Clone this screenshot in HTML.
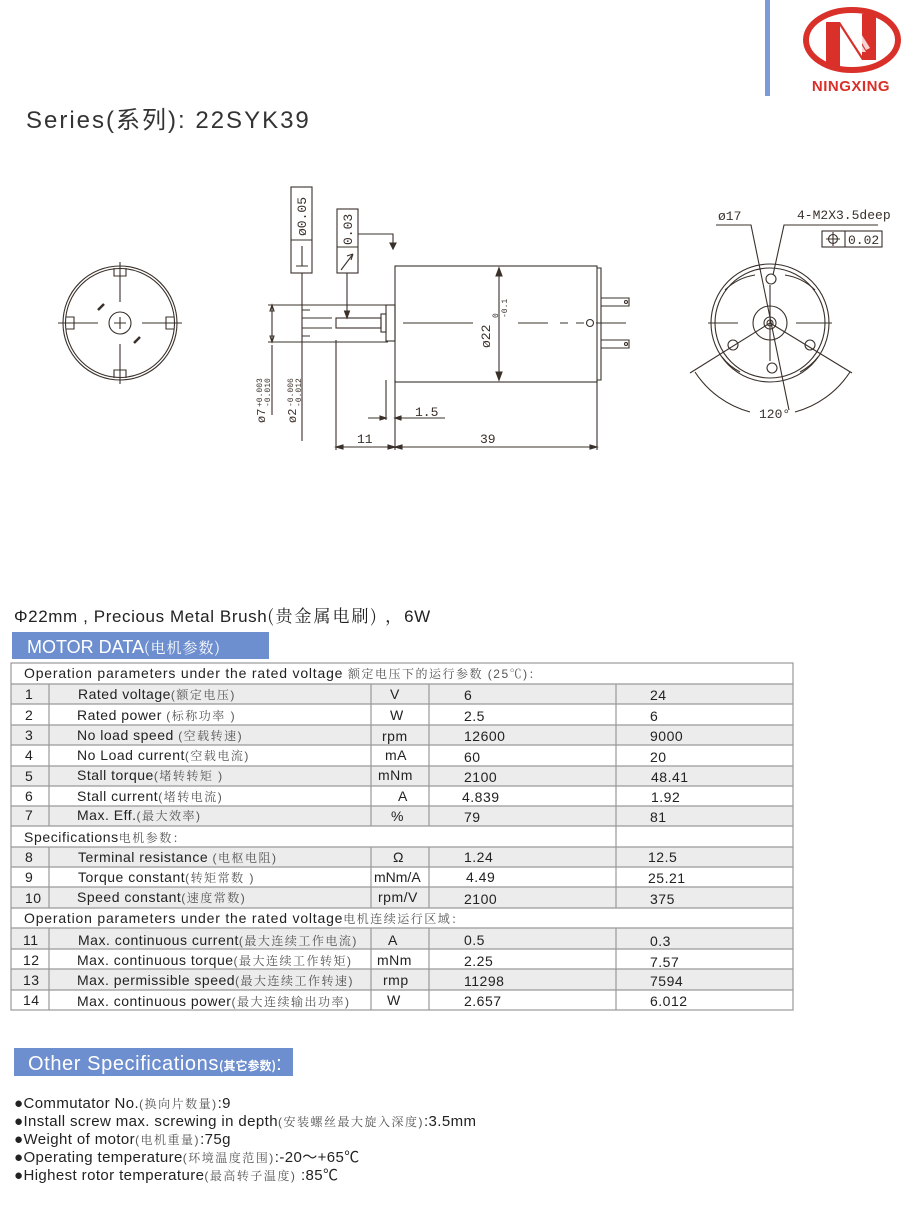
<!DOCTYPE html>
<html><head><meta charset="utf-8"><style>
body{margin:0;background:#fff;}
svg{display:block;font-family:"Liberation Sans","Noto Sans CJK SC",sans-serif;}
.cn{font-family:"Liberation Sans","Noto Serif CJK SC",serif;font-size:12px;fill:#555;letter-spacing:1.5px;}
.t{letter-spacing:0.5px;}
</style></head><body>
<svg width="920" height="1227" viewBox="0 0 920 1227" xmlns="http://www.w3.org/2000/svg">
<!-- header -->
<rect x="765" y="0" width="5" height="96" fill="#7b9bd6"/>
<ellipse cx="852" cy="40" rx="46" ry="30" fill="none" stroke="#d9302a" stroke-width="6"/>
<path d="M826 68 L826 22 L840 22 L862 56 L862 14 L876 14 L876 60 L862 60 L840 26 L840 68 Z" fill="#d9302a"/>
<path d="M843 24 L849 24 L866 52 L860 52 Z M851 24 L855 24 L870 48 L866 50 Z" fill="#fff" opacity="0.8"/>
<text x="851" y="91" font-size="15" font-weight="bold" fill="#d9302a" text-anchor="middle" letter-spacing="0.5">NINGXING</text>
<text x="26" y="128" font-size="24" fill="#333" letter-spacing="2">Series(<tspan font-family="Noto Sans CJK SC">系列</tspan>): 22SYK39</text>

<g stroke="#3a302a" fill="none" stroke-width="1.1">
<!-- left view -->
<circle cx="120" cy="323" r="57"/><circle cx="120" cy="323" r="54.5"/>
<circle cx="120" cy="323" r="11"/>
<path d="M114 323h12 M120 317v12"/>
<path d="M120 262v40 M120 344v40 M58 323h40 M142 323h40"/>
<path d="M114 268v8h12v-8 M114 378v-8h12v8 M66 317h8v12h-8 M174 317h-8v12h8"/>
<path d="M98 310l6-6 M134 343l6-6" stroke-width="2.5"/>
<!-- side view -->
<rect x="395" y="266" width="202" height="116"/>
<path d="M597 268h4v112h-4"/>
<rect x="386" y="305" width="9" height="36"/>
<rect x="381" y="314" width="5" height="18"/>
<rect x="336" y="318" width="45" height="10"/>
<path d="M302 318h30 M302 328h30 M302 310h8 M302 336h8"/>
<path d="M403 323h70 M518 323h30 M560 323h8 M576 323h8 M596 323h30"/>
<circle cx="590" cy="323" r="3.5"/>
<path d="M601 298h28v8h-28 M601 340h28v8h-28"/>
<circle cx="626" cy="302" r="1.5"/><circle cx="626" cy="344" r="1.5"/>
<path d="M499 268v112"/>
<path d="M499 268l-3 8h6z M499 380l-3-8h6z" fill="#3a302a"/>
<!-- frames -->
<rect x="291" y="187" width="21" height="86"/><path d="M291 240h21"/>
<path d="M296 266h12 M302 266v-20" />
<path d="M302 273v168"/>
<rect x="337" y="209" width="21" height="64"/><path d="M337 247h21"/>
<path d="M341 270l12-16 M353 254l-2 6 M353 254l-6 2"/>
<path d="M347 273v45"/><path d="M347 318l-2.5-7h5z" fill="#3a302a"/>
<path d="M358 234h35v15"/><path d="M393 249l-3-6h6z" fill="#3a302a"/>
<!-- dims -->
<path d="M268 305h120 M268 342h120 M272 305v37 M272 305l-2 6h4z M272 342l-2-6h4z"/>
<path d="M272 345v70"/>
<path d="M386 380v40 M395 380v70 M336 340v110 M597 380v70"/>
<path d="M368 418h18 M395 418h50"/>
<path d="M386 418l-6-2v4z M395 418l6-2v4z" fill="#3a302a"/>
<path d="M336 447h259"/>
<path d="M336 447l7-2v4z M395 447l-7-2v4z M395 447l7-2v4z M597 447l-7-2v4z" fill="#3a302a"/>
<!-- right view -->
<circle cx="770" cy="323" r="59"/><circle cx="770" cy="323" r="55"/>
<circle cx="770" cy="323" r="17"/><circle cx="770" cy="323" r="6"/><circle cx="770" cy="323" r="3"/>
<path d="M708 323h30 M796 323h36 M770 285v76"/>
<circle cx="771" cy="279" r="5"/><circle cx="733" cy="345" r="5"/><circle cx="810" cy="345" r="5"/><circle cx="772" cy="368" r="5"/>
<path d="M770 323L690 373 M770 323L852 373"/>
<path d="M725 290a55 55 0 0 1 30 -15 M815 290a55 55 0 0 0 -30 -15 M722 357a55 55 0 0 0 18 15 M818 357a55 55 0 0 1 -18 15"/>
<path d="M695 372a95 95 0 0 0 55 40 M850 372a95 95 0 0 1 -55 40"/>
<path d="M716 225h35 L789 410 M878 225h-94 L773 275"/>
<rect x="822" y="231" width="60" height="16"/><path d="M845 231v16"/>
<circle cx="833" cy="239" r="4.5"/><path d="M826 239h14 M833 232v14"/>
</g>
<g font-family="Liberation Mono,monospace" fill="#3a302a" font-size="13">
<text x="718" y="220">ø17</text>
<text x="797" y="219">4-M2X3.5deep</text>
<text x="848" y="244">0.02</text>
<text x="759" y="418">120°</text>
<text x="415" y="416">1.5</text>
<text x="357" y="443">11</text>
<text x="480" y="443">39</text>
<text transform="translate(306,236) rotate(-90)">ø0.05</text>
<text transform="translate(352,245) rotate(-90)">0.03</text>
<text transform="translate(490,348) rotate(-90)">ø22</text>
<text transform="translate(498,318) rotate(-90)" font-size="8">0</text>
<text transform="translate(507,318) rotate(-90)" font-size="8">-0.1</text>
<text transform="translate(265,423) rotate(-90)" font-size="12">ø7</text>
<text transform="translate(262,407) rotate(-90)" font-size="8">+0.003</text>
<text transform="translate(270,407) rotate(-90)" font-size="8">-0.010</text>
<text transform="translate(296,423) rotate(-90)" font-size="12">ø2</text>
<text transform="translate(293,407) rotate(-90)" font-size="8">-0.006</text>
<text transform="translate(301,407) rotate(-90)" font-size="8">-0.012</text>
</g>

<!-- table -->
<text x="14" y="622" font-size="17" fill="#222" letter-spacing="0.6">Φ22mm , Precious Metal Brush<tspan font-family="Noto Serif CJK SC" letter-spacing="2">(贵金属电刷) ，</tspan>6W</text>
<rect x="12" y="632" width="257" height="27" fill="#6e8fcf"/>
<text x="27" y="653" font-size="18" fill="#fff">MOTOR DATA<tspan font-size="15" font-family="Noto Serif CJK SC" letter-spacing="1">(电机参数)</tspan></text>
<g fill="#ececec">
<rect x="11" y="684" width="782" height="20"/><rect x="11" y="725" width="782" height="20"/><rect x="11" y="766" width="782" height="20"/><rect x="11" y="806" width="782" height="20"/>
<rect x="11" y="847" width="782" height="20"/><rect x="11" y="887" width="782" height="21"/>
<rect x="11" y="928" width="782" height="21"/><rect x="11" y="969" width="782" height="21"/>
</g>
<g stroke="#999" stroke-width="1.2" fill="none">
<rect x="11" y="663" width="782" height="347"/>
<path d="M11 684h782 M11 704h782 M11 725h782 M11 745h782 M11 766h782 M11 786h782 M11 806h782 M11 826h782 M11 847h782 M11 867h782 M11 887h782 M11 908h782 M11 928h782 M11 949h782 M11 969h782 M11 990h782"/>
<path d="M49 684v142 M371 684v142 M429 684v142 M616 684v163 M49 847v61 M371 847v61 M429 847v61 M616 847v61 M49 928v82 M371 928v82 M429 928v82 M616 928v82"/>
</g>
<g font-size="14" fill="#222" class="t">
<text x="24" y="678" letter-spacing="0.8">Operation parameters under the rated voltage <tspan class="cn">额定电压下的运行参数 (25℃)：</tspan></text>
<text x="24" y="842" letter-spacing="0.6">Specifications<tspan class="cn">电机参数：</tspan></text>
<text x="24" y="923" letter-spacing="0.8">Operation parameters under the rated voltage<tspan class="cn">电机连续运行区域：</tspan></text>
<text x="25" y="699">1</text><text x="78" y="699">Rated voltage<tspan class="cn">(额定电压)</tspan></text><text x="390" y="699">V</text><text x="464" y="700">6</text><text x="650" y="700">24</text>
<text x="25" y="720">2</text><text x="77" y="720">Rated power <tspan class="cn">(标称功率 )</tspan></text><text x="390" y="720">W</text><text x="464" y="721">2.5</text><text x="650" y="721">6</text>
<text x="25" y="740">3</text><text x="77" y="740">No load speed <tspan class="cn">(空载转速)</tspan></text><text x="382" y="741">rpm</text><text x="464" y="741">12600</text><text x="650" y="741">9000</text>
<text x="25" y="760">4</text><text x="77" y="760">No Load current<tspan class="cn">(空载电流)</tspan></text><text x="385" y="760">mA</text><text x="464" y="762">60</text><text x="650" y="762">20</text>
<text x="25" y="781">5</text><text x="77" y="780">Stall torque<tspan class="cn">(堵转转矩 )</tspan></text><text x="378" y="780">mNm</text><text x="464" y="782">2100</text><text x="651" y="782">48.41</text>
<text x="25" y="801">6</text><text x="77" y="801">Stall current<tspan class="cn">(堵转电流)</tspan></text><text x="398" y="801">A</text><text x="462" y="802">4.839</text><text x="651" y="802">1.92</text>
<text x="25" y="820">7</text><text x="77" y="820">Max. Eff.<tspan class="cn">(最大效率)</tspan></text><text x="391" y="821">%</text><text x="464" y="822">79</text><text x="650" y="822">81</text>
<text x="25" y="862">8</text><text x="78" y="862">Terminal resistance <tspan class="cn">(电枢电阻)</tspan></text><text x="393" y="862">Ω</text><text x="464" y="862">1.24</text><text x="648" y="862">12.5</text>
<text x="25" y="882">9</text><text x="78" y="882">Torque constant<tspan class="cn">(转矩常数 )</tspan></text><text x="374" y="882" letter-spacing="0">mNm/A</text><text x="466" y="882">4.49</text><text x="648" y="883">25.21</text>
<text x="25" y="903">10</text><text x="77" y="902">Speed constant<tspan class="cn">(速度常数)</tspan></text><text x="378" y="902">rpm/V</text><text x="464" y="904">2100</text><text x="650" y="904">375</text>
<text x="23" y="945">11</text><text x="78" y="945">Max. continuous current<tspan class="cn" letter-spacing="0.8">(最大连续工作电流)</tspan></text><text x="388" y="945">A</text><text x="464" y="945">0.5</text><text x="650" y="946">0.3</text>
<text x="23" y="965">12</text><text x="77" y="965">Max. continuous torque<tspan class="cn" letter-spacing="0.8">(最大连续工作转矩)</tspan></text><text x="377" y="965">mNm</text><text x="464" y="966">2.25</text><text x="650" y="967">7.57</text>
<text x="23" y="985">13</text><text x="77" y="985">Max. permissible speed<tspan class="cn" letter-spacing="0.8">(最大连续工作转速)</tspan></text><text x="383" y="985">rmp</text><text x="464" y="986">11298</text><text x="650" y="986">7594</text>
<text x="23" y="1005">14</text><text x="77" y="1006">Max. continuous power<tspan class="cn" letter-spacing="0.8">(最大连续输出功率)</tspan></text><text x="387" y="1005">W</text><text x="464" y="1006">2.657</text><text x="650" y="1006">6.012</text>
</g>

<!-- other specs -->
<rect x="14" y="1048" width="279" height="28" fill="#6e8fcf"/>
<text x="28" y="1070" font-size="20" fill="#fff" letter-spacing="0.6">Other Specifications<tspan font-size="12" font-weight="bold" font-family="Noto Sans CJK SC" letter-spacing="0">(其它参数)</tspan>:</text>
<g font-size="15" fill="#222" letter-spacing="0.4">
<text x="14" y="1108">●Commutator No.<tspan class="cn" font-size="14">(换向片数量)</tspan>:9</text>
<text x="14" y="1126">●Install screw max. screwing in depth<tspan class="cn" font-size="14">(安装螺丝最大旋入深度)</tspan>:3.5mm</text>
<text x="14" y="1144">●Weight of motor<tspan class="cn" font-size="14">(电机重量)</tspan>:75g</text>
<text x="14" y="1162">●Operating temperature<tspan class="cn" font-size="14">(环境温度范围)</tspan>:-20～+65℃</text>
<text x="14" y="1180">●Highest rotor temperature<tspan class="cn" font-size="14">(最高转子温度)</tspan> :85℃</text>
</g>
</svg>
</body></html>
